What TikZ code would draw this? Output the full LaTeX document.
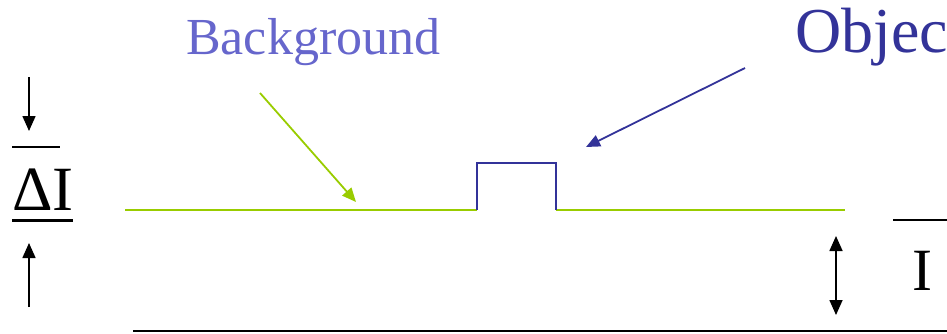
\documentclass[tikz,border=0pt]{standalone}
\usepackage{fontspec}
\setmainfont{Liberation Serif}
\usetikzlibrary{arrows.meta}
\definecolor{bgline}{HTML}{99CC00}
\definecolor{objblue}{HTML}{333399}
\definecolor{bgtext}{HTML}{6666CC}
\begin{document}
\begin{tikzpicture}[x=1pt,y=-1pt,
  lbl/.style={inner sep=0pt,anchor=base west},
  ptr/.style={line width=1.8pt,-{Triangle[length=14pt,width=12pt]}},
  bar/.style={line width=1.5pt,black}]
\useasboundingbox (0,0) rectangle (947,333);
\clip (0,0) rectangle (947,333);

% labels
\node[lbl,text=bgtext,font=\fontsize{52}{52}\selectfont] (bgl) at (186,54) {Background};
\node[lbl,text=objblue,font=\fontsize{64}{64}\selectfont] (obl) at (795,52) {Objec};
\node[lbl,font=\fontsize{63}{63}\selectfont] (dI) at (12,210) {ΔI};
\node[lbl,font=\fontsize{60}{60}\selectfont] (Il) at (912,290) {I};

% signal profile: background level with a raised object
\coordinate (b0) at (125,210);
\coordinate (b1) at (477,210);
\coordinate (o1) at (477,163);
\coordinate (o2) at (556,163);
\coordinate (b2) at (556,210);
\coordinate (b3) at (845,210);
\draw[bgline,line width=2pt] (b0) -- (b1);
\draw[bgline,line width=2pt] (b2) -- (b3);
\draw[objblue,line width=2pt] (b1) -- (o1) -- (o2) -- (b2);

% pointers
\coordinate (ga) at (260,93);
\coordinate (gb) at (356,202);
\draw[bgline,ptr] (ga) -- (gb);
\coordinate (pa) at (745,68);
\coordinate (pb) at (586,147);
\draw[objblue,ptr] (pa) -- (pb);

% delta I marks
\coordinate (da) at (29,77);
\coordinate (db) at (29,131);
\draw[black,ptr,line width=1.6pt,-{Triangle[length=15pt,width=13pt]}] (da) -- (db);
\coordinate (ua) at (29,307);
\coordinate (ub) at (29,243);
\draw[black,ptr,line width=1.6pt,-{Triangle[length=15pt,width=13pt]}] (ua) -- (ub);
\coordinate (ol1) at (12,147);
\coordinate (ol2) at (60,147);
\draw[bar] (ol1) -- (ol2);
\coordinate (ul1) at (12,220);
\coordinate (ul2) at (73,220);
\draw[black,line width=3pt] (ul1) -- (ul2);

% I marks
\coordinate (ia) at (836,236);
\coordinate (ib) at (836,315);
\draw[black,line width=1.6pt,{Triangle[length=15pt,width=13pt]}-{Triangle[length=15pt,width=13pt]}] (ia) -- (ib);
\coordinate (il1) at (893,220);
\coordinate (il2) at (947,220);
\draw[bar] (il1) -- (il2);

% baseline
\coordinate (z0) at (133,331);
\coordinate (z1) at (947,331);
\draw[black,line width=2.2pt] (z0) -- (z1);
\end{tikzpicture}
\end{document}
